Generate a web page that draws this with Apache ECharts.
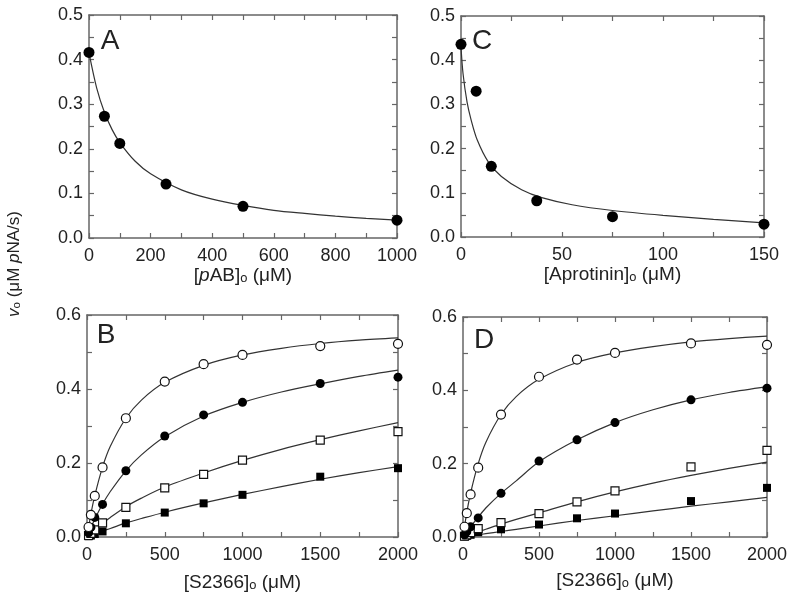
<!DOCTYPE html>
<html>
<head>
<meta charset="utf-8">
<script src="https://cdn.jsdelivr.net/npm/echarts@6.0.0/dist/echarts.min.js"></script>
<style>
  html, body { margin: 0; padding: 0; background: #fff; }
  #chart { width: 800px; height: 599px; }
</style>
</head>
<body>
<div id="chart"></div>
<script>
// panel A: pAB inhibition
const aX = [0, 50, 100, 250, 500, 1000];
const aY = [0.416, 0.273, 0.212, 0.121, 0.071, 0.040];
const aFitX = [0, 25, 50, 75, 100, 150, 200, 300, 400, 500, 600, 700, 800, 900, 1000];
const aFitY = [0.415, 0.336, 0.282, 0.243, 0.214, 0.172, 0.144, 0.108, 0.087, 0.073, 0.062, 0.055, 0.049, 0.044, 0.040];

// panel C: aprotinin inhibition
const cX = [0, 7.5, 15, 37.5, 75, 150];
const cY = [0.436, 0.330, 0.160, 0.082, 0.046, 0.029];
const cFitX = [0, 1, 3, 5, 8, 13.5, 20, 30, 40, 55, 75, 100, 125, 150];
const cFitY = [0.43, 0.37, 0.305, 0.265, 0.22, 0.17, 0.137, 0.107, 0.089, 0.073, 0.060, 0.049, 0.040, 0.032];

// panels B and D: S2366 substrate
const sX = [10, 25, 50, 100, 250, 500, 750, 1000, 1500, 2000];
const sFitX = [0, 25, 50, 100, 150, 250, 350, 500, 750, 1000, 1250, 1500, 1750, 2000];

const bOpenCirc = [0.027, 0.060, 0.111, 0.188, 0.321, 0.420, 0.467, 0.492, 0.516, 0.522];
const bFillCirc = [0.011, 0.026, 0.053, 0.088, 0.179, 0.273, 0.330, 0.364, 0.415, 0.432];
const bOpenSq = [0.004, 0.010, 0.019, 0.038, 0.080, 0.133, 0.169, 0.208, 0.262, 0.285];
const bFillSq = [0.002, 0.004, 0.008, 0.015, 0.037, 0.066, 0.091, 0.114, 0.163, 0.186];
const bFitOpenCirc = [0, 0.062, 0.112, 0.189, 0.245, 0.321, 0.370, 0.418, 0.464, 0.492, 0.510, 0.523, 0.532, 0.538];
const bFitFillCirc = [0, 0.025, 0.048, 0.089, 0.123, 0.179, 0.222, 0.271, 0.327, 0.364, 0.392, 0.414, 0.434, 0.451];
const bFitOpenSq = [0, 0.009, 0.018, 0.037, 0.053, 0.082, 0.105, 0.135, 0.173, 0.207, 0.237, 0.263, 0.287, 0.309];
const bFitFillSq = [0, 0.004, 0.008, 0.016, 0.023, 0.038, 0.050, 0.067, 0.092, 0.115, 0.136, 0.156, 0.174, 0.190];

const dOpenCirc = [0.028, 0.065, 0.116, 0.189, 0.334, 0.437, 0.484, 0.502, 0.528, 0.524];
const dFillCirc = [0.006, 0.014, 0.028, 0.052, 0.119, 0.207, 0.265, 0.312, 0.374, 0.406];
const dOpenSq = [0.002, 0.006, 0.012, 0.023, 0.039, 0.064, 0.096, 0.126, 0.191, 0.236];
const dFillSq = [0.001, 0.003, 0.006, 0.013, 0.021, 0.034, 0.051, 0.064, 0.098, 0.134];
const dFitOpenCirc = [0, 0.067, 0.120, 0.200, 0.258, 0.334, 0.383, 0.430, 0.476, 0.502, 0.519, 0.532, 0.541, 0.548];
const dFitFillCirc = [0, 0.014, 0.028, 0.054, 0.079, 0.119, 0.153, 0.205, 0.265, 0.312, 0.347, 0.374, 0.394, 0.410];
const dFitOpenSq = [0, 0.004, 0.007, 0.014, 0.021, 0.035, 0.048, 0.066, 0.096, 0.123, 0.147, 0.168, 0.187, 0.204];
const dFitFillSq = [0, 0.0015, 0.003, 0.006, 0.009, 0.015, 0.021, 0.030, 0.045, 0.058, 0.071, 0.084, 0.096, 0.108];

const FONT = 'Liberation Sans, Arial, sans-serif';
const INK = '#222';
const FRAME = '#666';

const zip = (xs, ys) => xs.map((x, i) => [x, ys[i]]);

const grids = [
  { left: 89, top: 15, width: 308, height: 223 },   // A
  { left: 461, top: 16, width: 303, height: 221 },  // C
  { left: 87, top: 315, width: 311, height: 222 },  // B
  { left: 463, top: 317, width: 304, height: 220 }, // D
];

const tickCommon = {
  axisLine: { show: true, onZero: false, lineStyle: { color: FRAME, width: 1.5 } },
  axisTick: { show: true, inside: true, length: 5, lineStyle: { color: FRAME, width: 1.2 } },
  minorTick: { show: true, splitNumber: 2, length: 5, lineStyle: { color: FRAME, width: 1.2 } },
  splitLine: { show: false },
};

const nameRich = {
  i: { fontStyle: 'italic', fontSize: 19, fontFamily: FONT, color: INK },
};

const xAxes = [];
const yAxes = [];
function addAxes(g, xmax, xint, ymax, yint, name, nameGap) {
  xAxes.push(Object.assign({}, tickCommon, {
    gridIndex: g, type: 'value', position: 'bottom', min: 0, max: xmax, interval: xint,
    axisLabel: { color: INK, fontSize: 18, fontFamily: FONT, margin: 9, formatter: v => String(v) },
    name: name, nameLocation: 'middle', nameGap: nameGap,
    nameTextStyle: { color: INK, fontSize: 19, fontFamily: FONT, rich: nameRich },
  }));
  xAxes.push(Object.assign({}, tickCommon, {
    gridIndex: g, type: 'value', position: 'top', min: 0, max: xmax, interval: xint,
    axisLabel: { show: false },
  }));
  yAxes.push(Object.assign({}, tickCommon, {
    gridIndex: g, type: 'value', position: 'left', min: 0, max: ymax, interval: yint,
    axisLabel: { color: INK, fontSize: 18, fontFamily: FONT, margin: 6, formatter: v => v.toFixed(1) },
  }));
  yAxes.push(Object.assign({}, tickCommon, {
    gridIndex: g, type: 'value', position: 'right', min: 0, max: ymax, interval: yint,
    axisLabel: { show: false },
  }));
}

addAxes(0, 1000, 200, 0.5, 0.1, '[{i|p}AB]ₒ (μM)', 26);
addAxes(1, 150, 50, 0.5, 0.1, '[Aprotinin]ₒ (μM)', 28);
addAxes(2, 2000, 500, 0.6, 0.2, '[S2366]ₒ (μM)', 36);
addAxes(3, 2000, 500, 0.6, 0.2, '[S2366]ₒ (μM)', 34);

function fit(g, xs, ys) {
  return {
    type: 'line', xAxisIndex: 2 * g, yAxisIndex: 2 * g, data: zip(xs, ys),
    showSymbol: false, smooth: 0.3, silent: true, z: 2,
    lineStyle: { color: '#333', width: 1.2 },
  };
}
function pts(g, xs, ys, symbol, open, size) {
  return {
    type: 'scatter', xAxisIndex: 2 * g, yAxisIndex: 2 * g, data: zip(xs, ys),
    symbol: symbol, symbolSize: size, clip: false, z: 3,
    itemStyle: open
      ? { color: '#fff', borderColor: '#111', borderWidth: 1.2, opacity: 1 }
      : { color: '#000', borderColor: '#000', borderWidth: 0, opacity: 1 },
  };
}

const series = [
  fit(0, aFitX, aFitY), pts(0, aX, aY, 'circle', false, 11),
  fit(1, cFitX, cFitY), pts(1, cX, cY, 'circle', false, 11),

  fit(2, sFitX, bFitOpenCirc), fit(2, sFitX, bFitFillCirc),
  fit(2, sFitX, bFitOpenSq), fit(2, sFitX, bFitFillSq),
  pts(2, sX, bFillSq, 'rect', false, 8), pts(2, sX, bOpenSq, 'rect', true, 8),
  pts(2, sX, bFillCirc, 'circle', false, 9), pts(2, sX, bOpenCirc, 'circle', true, 9),

  fit(3, sFitX, dFitOpenCirc), fit(3, sFitX, dFitFillCirc),
  fit(3, sFitX, dFitOpenSq), fit(3, sFitX, dFitFillSq),
  pts(3, sX, dFillSq, 'rect', false, 8), pts(3, sX, dOpenSq, 'rect', true, 8),
  pts(3, sX, dFillCirc, 'circle', false, 9), pts(3, sX, dOpenCirc, 'circle', true, 9),
];

const letter = (t, x, y) => ({
  type: 'text', x: x, y: y,
  style: { text: t, fill: INK, font: '28px ' + FONT, textAlign: 'center', textVerticalAlign: 'middle' },
});

const chart = echarts.init(document.getElementById('chart'), null, { renderer: 'canvas' });
chart.setOption({
  animation: false,
  backgroundColor: '#fff',
  grid: grids,
  xAxis: xAxes,
  yAxis: yAxes,
  series: series,
  graphic: [
    letter('A', 110, 41),
    letter('C', 482, 41),
    letter('B', 106, 335),
    letter('D', 484, 340),
    {
      type: 'text', x: 14, y: 264, rotation: Math.PI / 2,
      style: {
        text: '{i|v}ₒ (μM {i|p}NA/s)',
        fill: INK, fontSize: 17, fontFamily: FONT,
        align: 'center', verticalAlign: 'middle',
        rich: { i: { fontStyle: 'italic', fontSize: 17, fontFamily: FONT, fill: INK } },
      },
    },
  ],
});
</script>
</body>
</html>
